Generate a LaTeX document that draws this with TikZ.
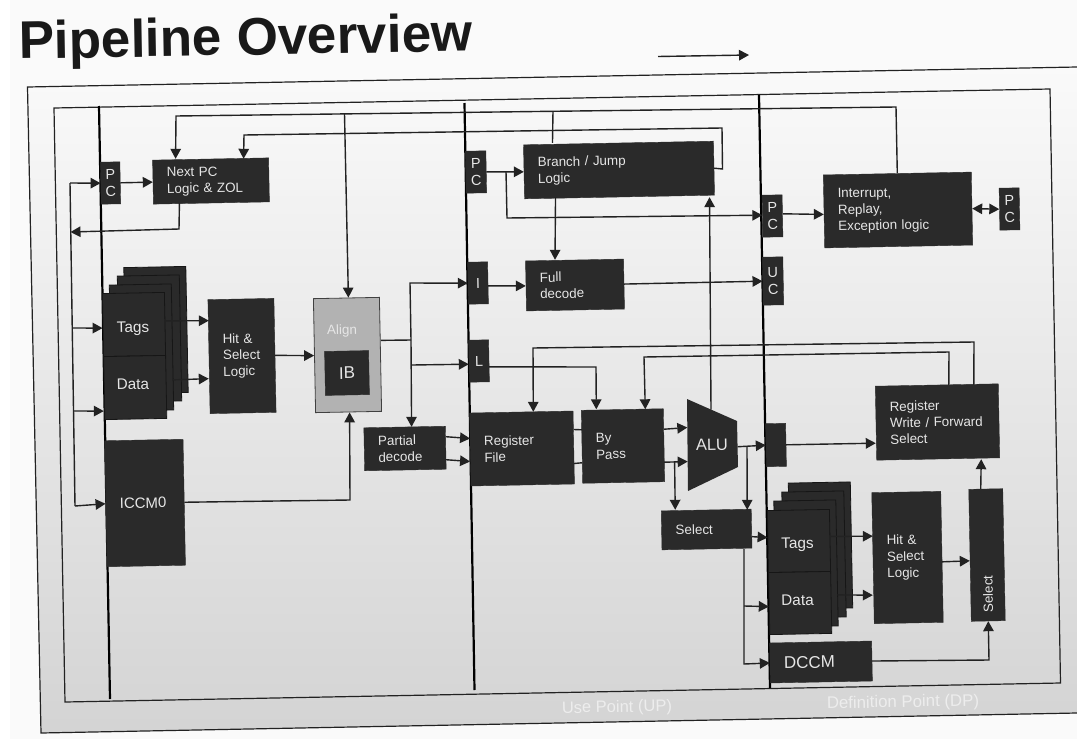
\documentclass[tikz,border=0pt]{standalone}
\usepackage{fontspec}
\setmainfont{Liberation Sans}
\usetikzlibrary{arrows.meta,calc}
\definecolor{boxc}{HTML}{2A2A2A}
\definecolor{edgec}{HTML}{161616}
\definecolor{txtc}{HTML}{E6E6E6}
\definecolor{linec}{HTML}{222222}
\tikzset{
  wire/.style={draw=linec,line width=1.4pt},
  arr/.style={wire,-{Triangle[length=10pt,width=10.5pt]}},
  darr/.style={wire,{Triangle[length=10pt,width=10.5pt]}-{Triangle[length=10pt,width=10.5pt]}},
  busline/.style={draw=black,line width=2.2pt},
  frameline/.style={draw=linec,line width=1.2pt},
  blk/.style={fill=boxc,draw=boxc,line width=.4pt,text=txtc,rotate=1.1,inner ysep=0pt,font=\fontsize{13.4}{16.4}\selectfont},
  tb/.style n args={2}{blk,inner xsep=14pt,text width=#1pt-28pt,minimum height=#2pt,align=left},
  cb/.style n args={2}{blk,inner xsep=0pt,text width=#1pt,minimum height=#2pt,align=center,font=\fontsize{14.5}{16.4}\selectfont},
  layerbox/.style={blk,draw=edgec,line width=.8pt,inner sep=0pt,minimum width=62pt,minimum height=126pt},
  lbl/.style={text=txtc,rotate=1.1,inner sep=0pt},
}
\begin{document}
\begin{tikzpicture}[x=1pt,y=-1pt]
\useasboundingbox (0,0) rectangle (1077,739);
\fill[white!98!black] (0,0) rectangle (1077,739);
\fill[white] (0,0) rectangle (10,739);
% frames
\coordinate (otl) at (27.5,87);
\coordinate (otr) at (1077,67);
\coordinate (obr) at (1077,713);
\coordinate (obl) at (41,733);
\coordinate (itl) at (54,108);
\coordinate (itr) at (1050,89);
\coordinate (ibr) at (1060.5,683);
\coordinate (ibl) at (65,702);
\path[top color=white!98!black,middle color=white!95!black,bottom color=white!83!black] (otl) -- (otr) -- (obr) -- (obl) -- cycle;
\draw[frameline] (otr) -- (otl) -- (obl) -- (obr);
\draw[frameline] (itl) -- (itr) -- (ibr) -- (ibl) -- cycle;
% pipeline boundaries
\coordinate (b1t) at (99,106);
\coordinate (b1b) at (110,699);
\coordinate (b2t) at (464.5,103);
\coordinate (b2b) at (474.5,690);
\coordinate (b3t) at (759,95);
\coordinate (b3b) at (770,688);
\draw[busline] (b1t) -- (b1b);
\draw[busline] (b2t) -- (b2b);
\draw[busline] (b3t) -- (b3b);
% title
\node[anchor=base west,inner sep=0pt,rotate=1,text=black!90,font=\fontsize{53}{53}\selectfont\bfseries] (title) at (19,59) {Pipeline Overview};
% free arrow
\coordinate (fa0) at (658,56.5);
\coordinate (fa1) at (749,55);
\draw[arr] (fa0) -- (fa1);
% boxes
\node[cb={19.5}{42}] (pc1) at (110.5,183) {P\\C};
\node[tb={116}{44}] (next) at (211,181) {Next PC\\Logic \& ZOL};
\node[layerbox] (s1) at (156,330) {};
\node[layerbox] (s2) at (149.5,338.5) {};
\node[layerbox] (s3) at (141.5,347.5) {};
\node[blk,draw=edgec,line width=.8pt,inner sep=0pt,minimum width=62pt,minimum height=63pt] (tags) at (134,324.5) {};
\node[blk,draw=edgec,line width=.8pt,inner sep=0pt,minimum width=62pt,minimum height=63pt] (data) at (135.2,387.5) {};
\node[lbl,font=\fontsize{15.3}{18}\selectfont] (tagst) at (133,329) {Tags};
\node[lbl,font=\fontsize{15.3}{18}\selectfont] (datat) at (133,384) {Data};
\node[tb={66}{114}] (hit1) at (242,356) {Hit \&\\Select\\Logic};
\node[blk,fill=black!30,draw=black!75,line width=.8pt,inner sep=0pt,minimum width=66pt,minimum height=114pt] (align) at (347.5,355) {};
\node[lbl,font=\fontsize{13.4}{16}\selectfont] (alignt) at (342,331) {Align};
\node[blk,inner sep=0pt,minimum width=44pt,minimum height=44pt,font=\fontsize{17}{20}\selectfont] (ib) at (347,373) {IB};
\node[tb={78.5}{126}] (iccm) at (145,503) {\fontsize{15}{18}\selectfont ICCM0};
\node[cb={20.5}{42}] (pc2) at (476,172) {P\\C};
\node[tb={190}{54}] (branch) at (619,170) {Branch / Jump\\Logic};
\node[cb={20}{42}] (ireg) at (478,283) {I};
\node[cb={20}{42}] (lreg) at (479,361) {L};
\node[tb={98}{50}] (full) at (575,285) {Full\\decode};
\node[tb={81.5}{43}] (partial) at (405,448.5) {Partial\\decode};
\node[tb={103.5}{73}] (rf) at (522,448.5) {Register\\File};
\node[tb={82}{73}] (bypass) at (623,446) {By\\Pass};
\coordinate (alutl) at (687,399);
\coordinate (alutr) at (737,421);
\coordinate (alubr) at (738,467);
\coordinate (alubl) at (688,491);
\fill[boxc] (alutl) -- (alutr) -- (alubr) -- (alubl) -- cycle;
\node[lbl,font=\fontsize{16.4}{19}\selectfont] (alu) at (712,445) {ALU};
\node[cb={20}{42}] (pc3) at (772.5,216) {P\\C};
\node[cb={20.5}{48}] (uc) at (773,281) {U\\C};
\node[tb={148}{73}] (int) at (898,210) {Interrupt,\\Replay,\\Exception logic};
\node[cb={20}{42}] (pc4) at (1009.5,209) {P\\C};
\node[cb={20}{43}] (dp) at (776,445) {};
\node[tb={123}{74}] (rw) at (937.5,422) {Register\\Write / Forward\\Select};
\node[tb={90}{39}] (selh) at (706.6,529.5) {Select};
\node[layerbox] (t1) at (820.5,545.5) {};
\node[layerbox] (t2) at (814,554.5) {};
\node[layerbox] (t3) at (806,563.5) {};
\node[blk,draw=edgec,line width=.8pt,inner sep=0pt,minimum width=62pt,minimum height=62pt] (tags2) at (799,541) {};
\node[blk,draw=edgec,line width=.8pt,inner sep=0pt,minimum width=62pt,minimum height=62pt] (data2) at (800.2,603) {};
\node[lbl,font=\fontsize{15.3}{18}\selectfont] (tags2t) at (797.5,545) {Tags};
\node[lbl,font=\fontsize{15.3}{18}\selectfont] (data2t) at (797.5,600) {Data};
\node[tb={69}{131}] (hit2) at (907.5,557.5) {Hit \&\\Select\\Logic};
\node[cb={34}{132}] (selv) at (987,555) {};
\node[lbl,rotate=90,font=\fontsize{13.4}{16}\selectfont] (selvt) at (988,594) {Select};
\node[tb={102}{40}] (dccm) at (821,662) {\fontsize{17}{20}\selectfont DCCM};
% bottom captions
\node[text=white!93!black,rotate=1.1,font=\fontsize{16.5}{19}\selectfont] (up) at (617,708) {Use Point (UP)};
\node[text=white!93!black,rotate=1.1,font=\fontsize{16.8}{19}\selectfont] (defp) at (903,703) {Definition Point (DP)};
% fetch-side bus
\coordinate (bustop) at (70,183);
\coordinate (busnext) at (70.5,232);
\coordinate (bustags) at (72.5,328);
\coordinate (busdata) at (74,411);
\coordinate (busbot) at (75,506);
\draw[wire] (bustop) -- (busbot);
\draw[arr] (bustop) -- (pc1.west);
\draw[arr] (pc1.east) -- (next.west);
\coordinate (nb) at (179,229);
\draw[arr] ($(next.south)+(-32,0)$) -- (nb) -- (busnext);
\draw[arr] (bustags) -- ($(tags.west)+(0,3)$);
\draw[arr] (busdata) -- ($(data.west)+(0,23)$);
\draw[arr] (busbot) -- (iccm.west);
\draw[arr] ($(tags.east)+(0,-3)$) -- ($(hit1.west)+(0,-36)$);
\draw[arr] ($(s3.east)+(0,33)$) -- ($(hit1.west)+(0,22)$);
\draw[arr] (hit1.east) -- (align.west);
\coordinate (ia) at (350,500);
\draw[arr] (iccm.east) -- (ia) -- ($(align.south)+(1,0)$);
% align outputs
\coordinate (a1) at (411,340);
\coordinate (a2) at (410,283);
\coordinate (a3) at (412,365);
\draw[wire] ($(align.east)+(0,-14)$) -- (a1);
\draw[arr] (a1) -- (a2) -- (ireg.west);
\draw[arr] (a1) -- ($(partial.north)+(7,0)$);
\draw[arr] (a3) -- ($(lreg.west)+(0,3)$);
\draw[arr] ($(partial.east)+(0,-11)$) -- ($(rf.west)+(0,-11)$);
\draw[arr] ($(partial.east)+(0,12)$) -- ($(rf.west)+(0,12)$);
% top feedback
\coordinate (tl1) at (896,107);
\coordinate (tl2) at (176,116);
\coordinate (tja) at (344.5,114);
\coordinate (tjb) at (553,111.3);
\draw[arr] (int.north) -- (tl1) -- (tl2) -- ($(next.north)+(-35,0)$);
\draw[arr] (tja) -- ($(align.north)+(2,0)$);
\draw[wire] (tjb) -- ($(branch.north)+(-66,0)$);
\coordinate (br1) at (722.5,169);
\coordinate (br2) at (722,128);
\coordinate (br3) at (244,135);
\draw[arr] (branch.east) -- (br1) -- (br2) -- (br3) -- ($(next.north)+(33,0)$);
% decode stage
\coordinate (pj) at (506,171.5);
\coordinate (pk) at (507,218);
\draw[arr] (pc2.east) -- (branch.west);
\draw[arr] (pj) -- (pk) -- ($(pc3.west)+(0,-1)$);
\draw[arr] ($(pc3.east)+(0,-2)$) -- ($(int.west)+(0,3)$);
\draw[darr] (int.east) -- (pc4.west);
\draw[arr] ($(branch.south)+(-64,0)$) -- ($(full.north)+(-19.5,0)$);
\draw[arr] ($(ireg.east)+(0,3)$) -- (full.west);
\draw[arr] (full.east) -- (uc.west);
% register file and bypass
\coordinate (l1) at (596,367);
\draw[arr] ($(lreg.east)+(0,6)$) -- (l1) -- ($(bypass.north)+(-26,0)$);
\coordinate (w1) at (974,342);
\coordinate (w2) at (533,348);
\draw[arr] ($(rw.north)+(37,0)$) -- (w1) -- (w2) -- ($(rf.north)+(12,0)$);
\coordinate (w3) at (949,352);
\coordinate (w4) at (644,357);
\draw[arr] ($(rw.north)+(12,0)$) -- (w3) -- (w4) -- ($(bypass.north)+(23,0)$);
\draw[wire] ($(rf.east)+(0,-18)$) -- ($(bypass.west)+(0,-17)$);
\draw[wire] ($(rf.east)+(0,16)$) -- ($(bypass.west)+(0,16)$);
\draw[arr] ($(bypass.east)+(0,-16)$) -- ($(alutl)!.31!(alubl)$);
\draw[arr] ($(bypass.east)+(0,17)$) -- ($(alutl)!.68!(alubl)$);
\draw[arr] ($(alutl)!.48!(alutr)$) -- ($(branch.south)+(90,0)$);
\draw[arr] ($(alutr)!.56!(alubr)$) -- (dp.west);
\coordinate (bj) at (674.6,462);
\coordinate (oj) at (747,446.5);
\draw[arr] (bj) -- ($(selh.north)+(-31,0)$);
\draw[arr] (oj) -- ($(selh.north)+(41,0)$);
\draw[arr] (dp.east) -- ($(rw.west)+(0,20)$);
% memory stage
\draw[arr] ($(selh.east)+(0,8)$) -- ($(tags2.west)+(0,-4)$);
\coordinate (sj) at (744,606);
\coordinate (sk) at (744,664);
\draw[arr] ($(selh.south)+(37,0)$) -- (sk) -- (dccm.west);
\draw[arr] (sj) -- ($(data2.west)+(0,3)$);
\draw[arr] ($(tags2.east)+(0,-4)$) -- ($(hit2.west)+(0,-22)$);
\draw[arr] ($(t3.east)+(0,32)$) -- ($(hit2.west)+(0,37)$);
\draw[arr] ($(hit2.east)+(0,5)$) -- ($(selv.west)+(0,5.5)$);
\draw[arr] ($(selv.north)+(-5,0)$) -- ($(rw.south)+(43,0)$);
\coordinate (dc) at (989,660);
\draw[arr] (dccm.east) -- (dc) -- (selv.south);
\end{tikzpicture}
\end{document}
